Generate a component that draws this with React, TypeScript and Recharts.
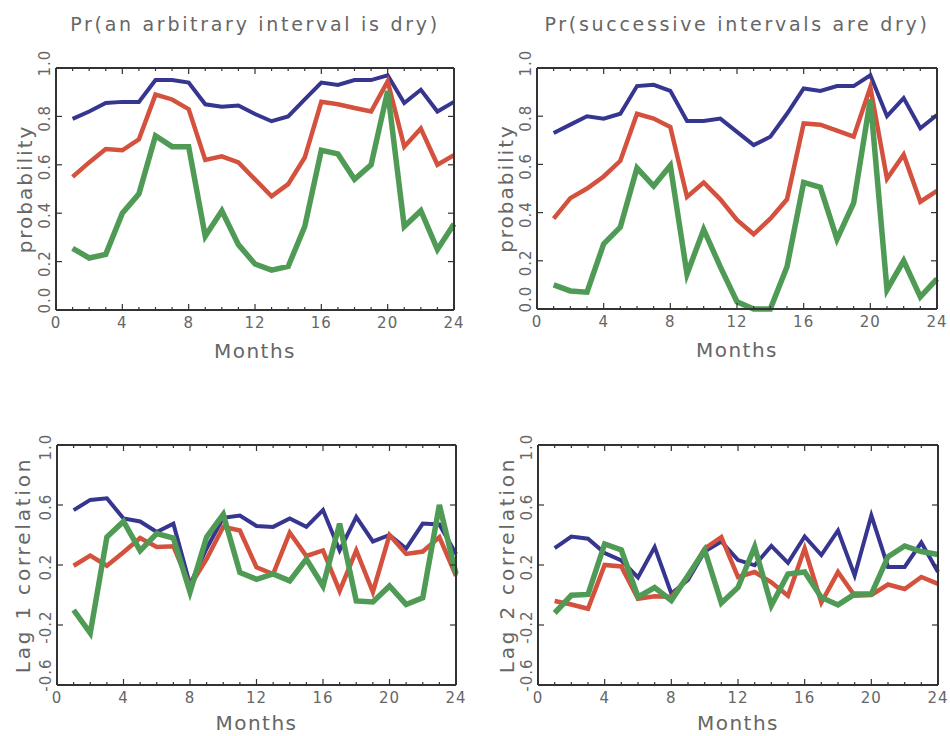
import React from "react";
import { LineChart, Line, XAxis, YAxis } from "recharts";

// months on the x axis (data starts at month 1)
const months = [1, 2, 3, 4, 5, 6, 7, 8, 9, 10, 11, 12, 13, 14, 15, 16, 17, 18, 19, 20, 21, 22, 23, 24];
const xTicks = [0, ...months];
const xMajor = [0, 4, 8, 12, 16, 20, 24];
const probTicks = [0, 0.2, 0.4, 0.6, 0.8, 1.0];
const corrTicks = [-0.6, -0.2, 0.2, 0.6, 1.0];

// Pr(an arbitrary interval is dry)
const arbBlue = [0.79, 0.82, 0.855, 0.86, 0.86, 0.95, 0.95, 0.94, 0.85, 0.84, 0.845, 0.81, 0.78, 0.8, 0.87, 0.94, 0.93, 0.95, 0.95, 0.97, 0.855, 0.91, 0.82, 0.86];
const arbRed = [0.55, 0.61, 0.665, 0.66, 0.705, 0.89, 0.87, 0.83, 0.62, 0.635, 0.61, 0.54, 0.47, 0.52, 0.63, 0.86, 0.85, 0.835, 0.82, 0.945, 0.675, 0.75, 0.6, 0.64];
const arbGreen = [0.255, 0.215, 0.23, 0.4, 0.48, 0.72, 0.675, 0.675, 0.305, 0.41, 0.27, 0.19, 0.165, 0.18, 0.345, 0.66, 0.645, 0.54, 0.6, 0.905, 0.345, 0.41, 0.25, 0.355];

// Pr(successive intervals are dry)
const succBlue = [0.73, 0.765, 0.8, 0.79, 0.81, 0.925, 0.93, 0.905, 0.78, 0.78, 0.79, 0.735, 0.68, 0.715, 0.81, 0.915, 0.905, 0.925, 0.925, 0.97, 0.8, 0.875, 0.75, 0.805];
const succRed = [0.375, 0.46, 0.5, 0.55, 0.615, 0.81, 0.79, 0.755, 0.465, 0.525, 0.455, 0.37, 0.31, 0.375, 0.455, 0.77, 0.765, 0.74, 0.715, 0.92, 0.54, 0.64, 0.445, 0.49];
const succGreen = [0.1, 0.075, 0.07, 0.27, 0.34, 0.585, 0.51, 0.595, 0.145, 0.33, 0.175, 0.03, 0.0, 0.0, 0.175, 0.525, 0.505, 0.29, 0.44, 0.87, 0.08, 0.2, 0.05, 0.125];

// Lag 1 correlation
const lag1Blue = [0.566, 0.634, 0.645, 0.51, 0.49, 0.42, 0.476, 0.07, 0.31, 0.515, 0.53, 0.46, 0.454, 0.51, 0.454, 0.566, 0.297, 0.52, 0.357, 0.4, 0.31, 0.476, 0.47, 0.274];
const lag1Red = [0.195, 0.263, 0.195, 0.285, 0.38, 0.32, 0.325, 0.06, 0.24, 0.455, 0.43, 0.185, 0.14, 0.415, 0.26, 0.297, 0.027, 0.297, 0.02, 0.4, 0.274, 0.29, 0.386, 0.128];
const lag1Green = [-0.1, -0.254, 0.386, 0.49, 0.296, 0.41, 0.38, 0.02, 0.386, 0.537, 0.15, 0.105, 0.14, 0.094, 0.24, 0.06, 0.476, -0.04, -0.047, 0.06, -0.063, -0.018, 0.6, 0.14];

// Lag 2 correlation
const lag2Blue = [0.312, 0.39, 0.375, 0.28, 0.23, 0.117, 0.32, 0.01, 0.1, 0.29, 0.357, 0.233, 0.198, 0.327, 0.214, 0.39, 0.266, 0.43, 0.13, 0.53, 0.187, 0.187, 0.35, 0.153];
const lag2Red = [-0.04, -0.063, -0.092, 0.2, 0.19, -0.025, -0.009, -0.013, 0.12, 0.31, 0.386, 0.12, 0.153, 0.085, -0.005, 0.31, -0.05, 0.153, -0.005, 0.0, 0.07, 0.04, 0.12, 0.074];
const lag2Green = [-0.12, -0.002, 0.004, 0.34, 0.3, -0.013, 0.05, -0.036, 0.13, 0.3, -0.054, 0.05, 0.32, -0.07, 0.14, 0.153, -0.016, -0.066, 0.006, 0.006, 0.255, 0.327, 0.29, 0.27];

const BLUE = "#36358f";
const RED = "#d4513d";
const GREEN = "#4f9b55";
const FRAME = "#333333";
const TEXT = "#666666";

// bottom ticks also draw the matching marks on the top edge
const BottomTick = (p: any) => {
  const v = p.payload.value;
  const major = xMajor.includes(v);
  const len = major ? 6 : 3;
  return (
    <g>
      <line x1={p.x} x2={p.x} y1={p.y} y2={p.y - len} stroke={p.fc} strokeWidth={1.2} />
      <line x1={p.x} x2={p.x} y1={p.ptop} y2={p.ptop + len} stroke={p.fc} strokeWidth={1.2} />
      {major && (
        <text x={p.x} y={p.y + 18} textAnchor="middle" fill={TEXT} fontSize={15} letterSpacing={1}>
          {v}
        </text>
      )}
    </g>
  );
};

// left ticks also draw the matching marks on the right edge
const LeftTick = (p: any) => {
  const v = p.payload.value;
  let dy = 2;
  if (v === p.lo) dy = -10;
  else if (v === p.hi && p.lo === 0) dy = -5;
  const cx = p.x - 11;
  const cy = p.y + dy;
  return (
    <g>
      <line x1={p.x} x2={p.x + 6} y1={p.y} y2={p.y} stroke={p.fc} strokeWidth={1.2} />
      <line x1={p.pright} x2={p.pright - 6} y1={p.y} y2={p.y} stroke={p.fc} strokeWidth={1.2} />
      <text x={cx} y={cy} transform={`rotate(-90 ${cx} ${cy})`} textAnchor="middle" dominantBaseline="central"
        fill={TEXT} fontSize={15} letterSpacing={1}>
        {v.toFixed(1)}
      </text>
    </g>
  );
};

type PanelProps = {
  left: number;
  top: number;
  height: number;
  margin: { top: number; right: number; bottom: number; left: number };
  blue: number[];
  red: number[];
  green: number[];
  domain: [number, number];
  yTicks: number[];
  title?: string;
  yTitle: string;
  yTitleDx: number;
  monthsDy: number;
};

const Panel = (props: PanelProps) => {
  const { left, top, height, margin, blue, red, green, domain, yTicks, title, yTitle, yTitleDx, monthsDy } = props;
  const data = months.map((m, i) => ({ month: m, blue: blue[i], red: red[i], green: green[i] }));
  const axisLine = { stroke: FRAME, strokeWidth: 2 };
  // axes take 1px each, so the margins are shrunk by one
  const m = { top: margin.top - 1, bottom: margin.bottom - 1, left: margin.left - 1, right: margin.right - 1 };
  const pright = 475 - margin.right;
  return (
    <div style={{ position: "absolute", left, top, fontFamily: "'DejaVu Sans', sans-serif" }}>
      <LineChart width={475} height={height} data={data} margin={m}>
        <XAxis xAxisId="b" type="number" dataKey="month" domain={[0, 24]} ticks={xTicks} interval={0}
          height={1} tickSize={0} tickMargin={0} tickLine={false} axisLine={axisLine}
          tick={(p: any) => <BottomTick {...p} fc={FRAME} ptop={margin.top} />}
          label={{
            content: (lp: any) => (
              <text x={lp.viewBox.x + lp.viewBox.width / 2} y={lp.viewBox.y + monthsDy} textAnchor="middle"
                fill={TEXT} fontSize={20} letterSpacing={1.5}>Months</text>
            ),
          }} />
        <XAxis xAxisId="t" orientation="top" type="number" dataKey="month" domain={[0, 24]}
          height={1} tickSize={0} tickMargin={0} tickLine={false} axisLine={axisLine} tick={false}
          label={title ? {
            content: (lp: any) => (
              <text x={lp.viewBox.x + lp.viewBox.width / 2} y={31} textAnchor="middle"
                fill={TEXT} fontSize={19} letterSpacing={2.7}>{title}</text>
            ),
          } : undefined} />
        <YAxis yAxisId="l" type="number" domain={domain} ticks={yTicks} interval={0}
          width={1} tickSize={0} tickMargin={0} tickLine={false} axisLine={axisLine}
          tick={(p: any) => <LeftTick {...p} fc={FRAME} pright={pright} lo={domain[0]} hi={domain[1]} />}
          label={{
            content: (lp: any) => {
              const cx = lp.viewBox.x + lp.viewBox.width + yTitleDx;
              const cy = lp.viewBox.y + lp.viewBox.height / 2;
              return (
                <text x={cx} y={cy} transform={`rotate(-90 ${cx} ${cy})`} textAnchor="middle" dominantBaseline="central"
                  fill={TEXT} fontSize={20} letterSpacing={yTitle.length > 12 ? 2.8 : 2}>{yTitle}</text>
              );
            },
          }} />
        <YAxis yAxisId="r" orientation="right" type="number" domain={domain}
          width={1} tickSize={0} tickMargin={0} tickLine={false} axisLine={axisLine} tick={false} />
        <Line xAxisId="b" yAxisId="l" dataKey="blue" stroke={BLUE} strokeWidth={4} dot={false} isAnimationActive={false} />
        <Line xAxisId="b" yAxisId="l" dataKey="red" stroke={RED} strokeWidth={4.5} dot={false} isAnimationActive={false} />
        <Line xAxisId="b" yAxisId="l" dataKey="green" stroke={GREEN} strokeWidth={5.5} dot={false} isAnimationActive={false} />
      </LineChart>
    </div>
  );
};

export default function App() {
  return (
    <div style={{ position: "absolute", left: 0, top: 0, width: 950, height: 736, background: "#fff" }}>
      <Panel left={0} top={0} height={370} margin={{ top: 68, left: 56, right: 21, bottom: 60 }}
        blue={arbBlue} red={arbRed} green={arbGreen} domain={[0, 1]} yTicks={probTicks}
        title="Pr(an arbitrary interval is dry)" yTitle="probability" yTitleDx={-31} monthsDy={48} />
      <Panel left={475} top={0} height={370} margin={{ top: 68, left: 62, right: 13, bottom: 61 }}
        blue={succBlue} red={succRed} green={succGreen} domain={[0, 1]} yTicks={probTicks}
        title="Pr(successive intervals are dry)" yTitle="probability" yTitleDx={-31} monthsDy={48} />
      <Panel left={0} top={370} height={366} margin={{ top: 75, left: 57, right: 19, bottom: 51 }}
        blue={lag1Blue} red={lag1Red} green={lag1Green} domain={[-0.6, 1]} yTicks={corrTicks}
        yTitle="Lag 1 correlation" yTitleDx={-34} monthsDy={45} />
      <Panel left={475} top={370} height={366} margin={{ top: 75, left: 63, right: 12, bottom: 51 }}
        blue={lag2Blue} red={lag2Red} green={lag2Green} domain={[-0.6, 1]} yTicks={corrTicks}
        yTitle="Lag 2 correlation" yTitleDx={-31} monthsDy={45} />
    </div>
  );
}
